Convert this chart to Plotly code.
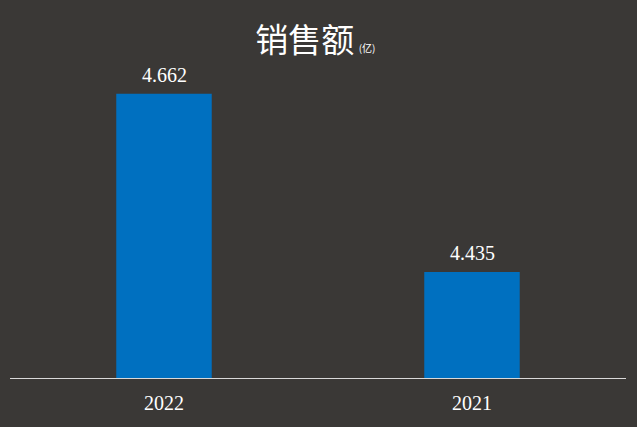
import plotly.graph_objects as go

categories = ["2022", "2021"]
values = [4.662, 4.435]
value_labels = ["4.662", "4.435"]

BG = "#3a3836"
BAR = "#0070c0"

fig = go.Figure()
fig.add_trace(go.Bar(
    x=categories, y=values,
    marker=dict(color=BAR, line=dict(width=0)),
    hoverinfo="skip",
))

for i, (v, t) in enumerate(zip(values, value_labels)):
    fig.add_annotation(
        x=i, y=v, xref="x", yref="y", text=t, showarrow=False,
        yanchor="bottom", yshift=6,
        font=dict(family="Liberation Serif", size=20, color="#ffffff"),
    )

fig.update_layout(
    width=637, height=427,
    paper_bgcolor=BG, plot_bgcolor=BG,
    margin=dict(l=10, r=11, t=60, b=49),
    bargap=0.69,
    showlegend=False,
    title=dict(
        text="销售额<span style='font-size:10px'>  (亿)</span>",
        x=0.495, xanchor="center", y=0.905, yanchor="middle",
        font=dict(family="Noto Sans CJK SC", size=33, color="#ffffff"),
    ),
    xaxis=dict(
        type="category", range=[-0.5, len(categories) - 0.5], autorange=False,
        showgrid=False, zeroline=False,
        showline=True, linecolor="#d9d9d9", linewidth=1,
        ticks="outside", ticklen=7, tickcolor="rgba(0,0,0,0)",
        tickfont=dict(family="Liberation Serif", size=20, color="#ffffff"),
    ),
    yaxis=dict(
        range=[4.3, 4.705], autorange=False, showgrid=False, zeroline=False,
        showticklabels=False, showline=False,
    ),
)

fig.write_html(
    "out.html",
    config={"displayModeBar": False},
    post_script="document.body.style.margin='0';document.body.style.background='#3a3836';",
)
